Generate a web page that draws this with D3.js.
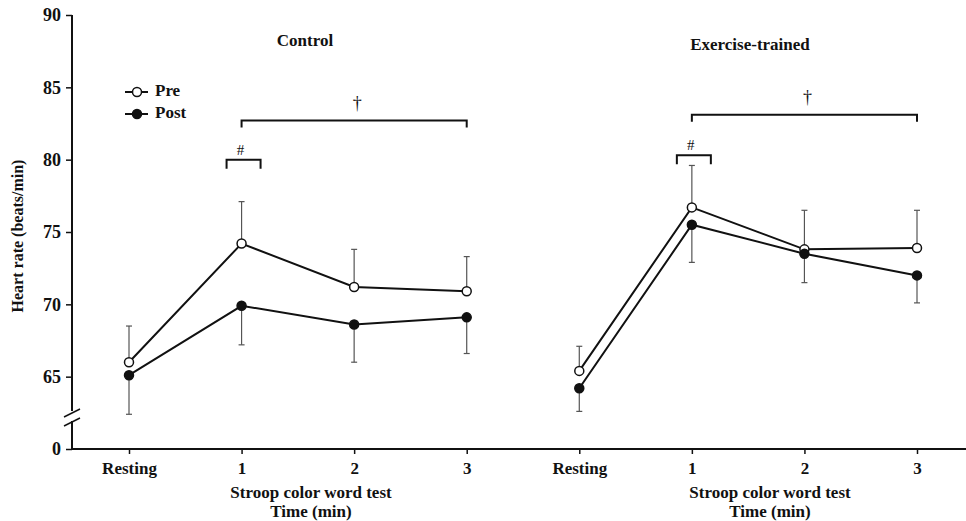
<!DOCTYPE html>
<html>
<head>
<meta charset="utf-8">
<script src="https://cdn.jsdelivr.net/npm/d3@7"></script>
<style>
  body { margin: 0; background: #fff; }
  svg text { font-family: "Liberation Serif", "Times New Roman", serif; fill: #111; }
</style>
</head>
<body>
<div id="chart"></div>
<script>
// values (mean, and one-sided error bar length)
const groups = ["Control", "Exercise-trained"];
const timePoints = ["Resting", "1", "2", "3"];
const yTicks = [60, 65, 70, 75, 80, 85, 90];

const controlPre = [66.0, 74.2, 71.2, 70.9];
const controlPreErr = [2.5, 2.9, 2.6, 2.4];
const controlPost = [65.1, 69.9, 68.6, 69.1];
const controlPostErr = [2.7, 2.7, 2.6, 2.5];

const trainedPre = [65.4, 76.7, 73.8, 73.9];
const trainedPreErr = [1.7, 2.9, 2.7, 2.6];
const trainedPost = [64.2, 75.5, 73.5, 72.0];
const trainedPostErr = [1.6, 2.6, 2.0, 1.9];

// significance marks: # between pre/post at min 1, † across the test
const hashLevel = [80.0, 80.3];
const daggerLevel = [82.7, 83.1];

const width = 966, height = 521;
const axisX = 72;

const svg = d3.select("#chart").append("svg")
    .attr("width", width)
    .attr("height", height);

const keys = [];
groups.forEach(g => timePoints.forEach(t => keys.push(g + "|" + t)));

const x = d3.scalePoint()
    .domain(keys)
    .range([129, 917]);

const y = d3.scaleLinear()
    .domain([60, 90])
    .range([449, 15]);

const series = [
    { group: groups[0], name: "Pre", vals: controlPre, err: controlPreErr, dir: 1, fill: "#fff" },
    { group: groups[0], name: "Post", vals: controlPost, err: controlPostErr, dir: -1, fill: "#111" },
    { group: groups[1], name: "Pre", vals: trainedPre, err: trainedPreErr, dir: 1, fill: "#fff" },
    { group: groups[1], name: "Post", vals: trainedPost, err: trainedPostErr, dir: -1, fill: "#111" }
];

// x axis (one line across both panels)
svg.append("g")
    .attr("transform", "translate(0," + y(60) + ")")
    .call(d3.axisBottom(x).tickSize(5).tickFormat(d => d.split("|")[1]))
    .call(g => g.select(".domain").remove())
    .call(g => g.selectAll(".tick line").attr("stroke", "#111").attr("stroke-width", 1.5))
    .call(g => g.selectAll(".tick text")
        .attr("dy", null).attr("y", 25)
        .style("font-size", "17px").style("font-weight", "bold")
        .style("font-family", "'Liberation Serif', serif").attr("fill", "#111"));

svg.append("line")
    .attr("x1", axisX).attr("x2", width)
    .attr("y1", y(60)).attr("y2", y(60))
    .attr("stroke", "#111").attr("stroke-width", 2);

// y axis with a break between 0 and 65
svg.append("g")
    .attr("transform", "translate(" + axisX + ",0)")
    .call(d3.axisLeft(y).tickValues(yTicks).tickSize(6).tickFormat(d => d === 60 ? "0" : d))
    .call(g => g.select(".domain").remove())
    .call(g => g.selectAll(".tick line").attr("stroke", "#111").attr("stroke-width", 1.5))
    .call(g => g.selectAll(".tick text")
        .attr("x", -11)
        .style("font-size", "18px").style("font-weight", "bold")
        .style("font-family", "'Liberation Serif', serif").attr("fill", "#111"));

svg.append("line")
    .attr("x1", axisX).attr("x2", axisX)
    .attr("y1", y(90)).attr("y2", 411)
    .attr("stroke", "#111").attr("stroke-width", 2);
svg.append("line")
    .attr("x1", axisX).attr("x2", axisX)
    .attr("y1", 421).attr("y2", y(60) + 1)
    .attr("stroke", "#111").attr("stroke-width", 2);
[413, 422].forEach(cy => {
    svg.append("line")
        .attr("x1", axisX - 8).attr("y1", cy + 4)
        .attr("x2", axisX + 8).attr("y2", cy - 4)
        .attr("stroke", "#111").attr("stroke-width", 1.5);
});

svg.append("text")
    .attr("transform", "translate(23,236) rotate(-90)")
    .attr("text-anchor", "middle")
    .style("font-size", "16px").style("font-weight", "bold")
    .text("Heart rate (beats/min)");

// panel titles and x-axis titles
const titleX = [305, 750];
const titleY = [46, 50];
const xTitleX = [311, 770];
groups.forEach((g, i) => {
    svg.append("text")
        .attr("x", titleX[i]).attr("y", titleY[i])
        .attr("text-anchor", "middle")
        .style("font-size", "17px").style("font-weight", "bold")
        .text(g);
    svg.append("text")
        .attr("x", xTitleX[i]).attr("y", 498)
        .attr("text-anchor", "middle")
        .style("font-size", "17px").style("font-weight", "bold")
        .text("Stroop color word test");
    svg.append("text")
        .attr("x", xTitleX[i]).attr("y", 517)
        .attr("text-anchor", "middle")
        .style("font-size", "17px").style("font-weight", "bold")
        .text("Time (min)");
});

// error bars
series.forEach(s => {
    const pts = s.vals.map((v, i) => ({ key: s.group + "|" + timePoints[i], v: v, e: s.err[i] }));
    const eb = svg.append("g").attr("stroke", "#555").attr("stroke-width", 1.2);
    pts.forEach(p => {
        const cx = x(p.key);
        const end = y(p.v + s.dir * p.e);
        eb.append("line").attr("x1", cx).attr("x2", cx).attr("y1", y(p.v)).attr("y2", end);
        eb.append("line").attr("x1", cx - 3).attr("x2", cx + 3).attr("y1", end).attr("y2", end);
    });
});

// lines and markers
const line = d3.line().x(d => x(d.key)).y(d => y(d.v));
series.forEach(s => {
    const pts = s.vals.map((v, i) => ({ key: s.group + "|" + timePoints[i], v: v }));
    svg.append("path")
        .datum(pts)
        .attr("d", line)
        .attr("fill", "none")
        .attr("stroke", "#111")
        .attr("stroke-width", 2);
    svg.selectAll(null)
        .data(pts)
        .enter()
        .append("circle")
        .attr("cx", d => x(d.key))
        .attr("cy", d => y(d.v))
        .attr("r", 4.5)
        .attr("fill", s.fill)
        .attr("stroke", "#111")
        .attr("stroke-width", 1.5);
});

// significance brackets
function bracket(x1, x2, yy, leg) {
    svg.append("path")
        .attr("d", "M" + x1 + "," + (yy + leg) + "V" + yy + "H" + x2 + "V" + (yy + leg))
        .attr("fill", "none")
        .attr("stroke", "#111")
        .attr("stroke-width", 2);
}
groups.forEach((g, i) => {
    const x1 = x(g + "|1"), x3 = x(g + "|3");
    const hy = y(hashLevel[i]);
    bracket(x1 - 15, x1 + 19, hy, 9);
    svg.append("text")
        .attr("x", x1 - 1).attr("y", hy - 5)
        .attr("text-anchor", "middle")
        .style("font-size", "15px")
        .text("#");
    const dy = y(daggerLevel[i]);
    bracket(x1, x3, dy, 7);
    svg.append("text")
        .attr("x", (x1 + x3) / 2 + 3).attr("y", dy - 12)
        .attr("text-anchor", "middle")
        .style("font-size", "18px")
        .text("\u2020");
});

// legend
const legendItems = [
    { name: "Pre", fill: "#fff" },
    { name: "Post", fill: "#111" }
];
legendItems.forEach((d, i) => {
    const ly = 92 + i * 22;
    svg.append("line")
        .attr("x1", 125).attr("x2", 148)
        .attr("y1", ly).attr("y2", ly)
        .attr("stroke", "#111").attr("stroke-width", 2);
    svg.append("circle")
        .attr("cx", 137).attr("cy", ly).attr("r", 4.5)
        .attr("fill", d.fill).attr("stroke", "#111").attr("stroke-width", 1.5);
    svg.append("text")
        .attr("x", 155).attr("y", ly + 4)
        .style("font-size", "17px").style("font-weight", "bold")
        .text(d.name);
});
</script>
</body>
</html>
